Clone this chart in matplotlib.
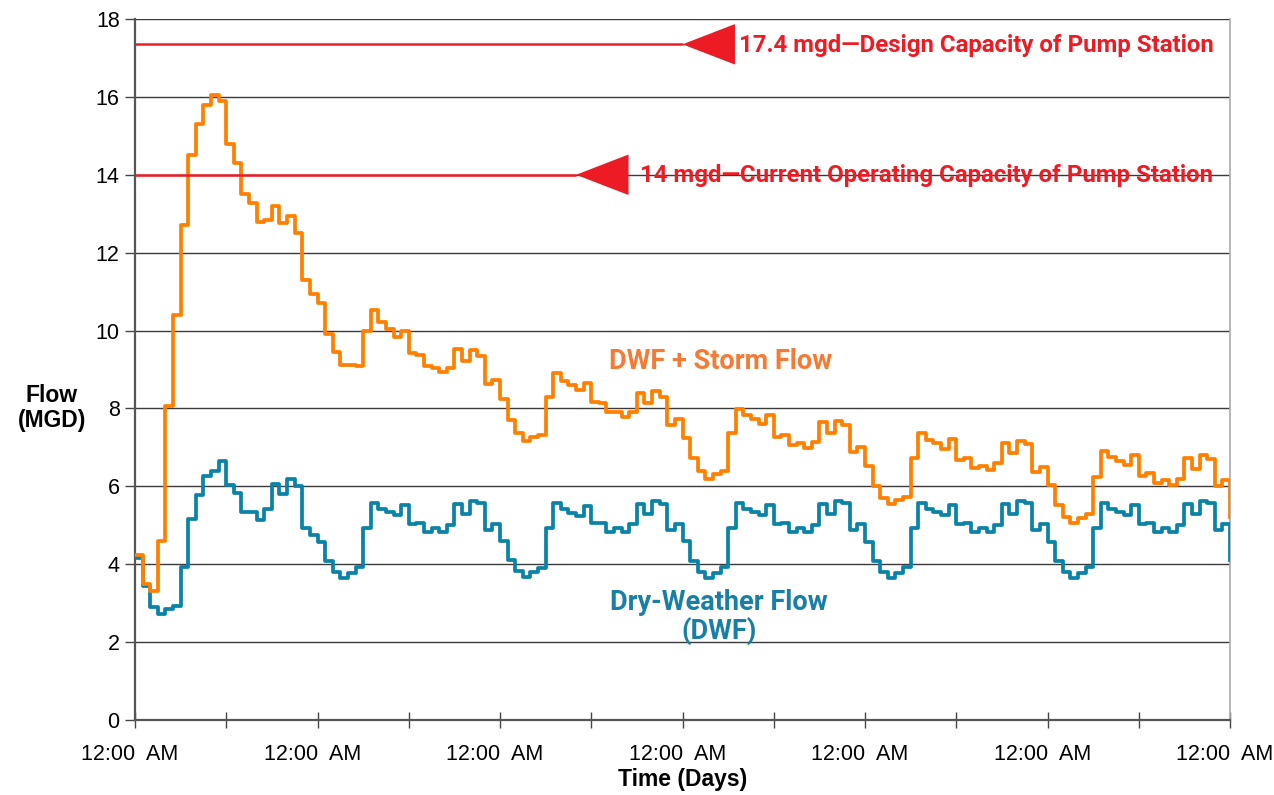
import numpy as np
import matplotlib.pyplot as plt
import matplotlib.transforms as mtransforms

# hourly flow (MGD), 6 days + final reading
hours = np.arange(145)

dwf = [
    # day 0
    4.15, 3.43, 2.90, 2.72, 2.86, 2.93, 3.94, 5.16, 5.77, 6.27, 6.39, 6.64,
    6.03, 5.82, 5.34, 5.34, 5.13, 5.43, 6.07, 5.80, 6.18, 6.00, 4.93, 4.74,
    # day 1
    4.57, 4.08, 3.80, 3.65, 3.78, 3.93, 4.92, 5.57, 5.42, 5.33, 5.26, 5.51,
    5.03, 5.07, 4.83, 4.92, 4.83, 5.01, 5.54, 5.30, 5.63, 5.56, 4.87, 5.03,
    # day 2
    4.60, 4.10, 3.83, 3.66, 3.79, 3.91, 4.92, 5.56, 5.41, 5.32, 5.25, 5.50,
    5.05, 5.07, 4.83, 4.92, 4.83, 5.02, 5.54, 5.30, 5.63, 5.55, 4.88, 5.04,
    # day 3
    4.60, 4.08, 3.80, 3.65, 3.78, 3.93, 4.92, 5.56, 5.42, 5.33, 5.26, 5.51,
    5.03, 5.07, 4.83, 4.92, 4.83, 5.01, 5.54, 5.30, 5.63, 5.56, 4.87, 5.03,
    # day 4
    4.57, 4.08, 3.80, 3.65, 3.78, 3.93, 4.92, 5.57, 5.42, 5.33, 5.26, 5.51,
    5.03, 5.07, 4.83, 4.92, 4.83, 5.01, 5.54, 5.30, 5.63, 5.56, 4.87, 5.03,
    # day 5
    4.57, 4.08, 3.80, 3.65, 3.78, 3.93, 4.92, 5.57, 5.42, 5.33, 5.26, 5.51,
    5.03, 5.07, 4.83, 4.92, 4.83, 5.01, 5.54, 5.30, 5.63, 5.56, 4.87, 5.03,
    4.10,
]

storm = [
    # day 0
    4.24, 3.50, 3.30, 4.60, 8.05, 10.40, 12.70, 14.50, 15.30, 15.80, 16.05, 15.90,
    14.80, 14.30, 13.50, 13.27, 12.80, 12.85, 13.20, 12.75, 12.95, 12.50, 11.30, 10.95,
    # day 1
    10.70, 9.92, 9.45, 9.11, 9.11, 9.09, 10.00, 10.52, 10.22, 10.03, 9.84, 10.00,
    9.43, 9.37, 9.09, 9.05, 8.94, 9.03, 9.52, 9.22, 9.50, 9.34, 8.62, 8.73,
    # day 2
    8.23, 7.70, 7.36, 7.16, 7.27, 7.32, 8.30, 8.90, 8.71, 8.60, 8.47, 8.66,
    8.16, 8.15, 7.90, 7.90, 7.79, 7.92, 8.40, 8.15, 8.45, 8.30, 7.58, 7.72,
    # day 3
    7.23, 6.72, 6.40, 6.20, 6.31, 6.40, 7.38, 7.98, 7.83, 7.72, 7.60, 7.83,
    7.27, 7.32, 7.06, 7.10, 6.99, 7.15, 7.64, 7.38, 7.69, 7.58, 6.87, 7.00,
    # day 4
    6.53, 6.00, 5.71, 5.54, 5.65, 5.73, 6.72, 7.36, 7.19, 7.10, 6.96, 7.21,
    6.68, 6.72, 6.46, 6.52, 6.42, 6.59, 7.10, 6.85, 7.16, 7.08, 6.38, 6.50,
    # day 5
    6.03, 5.52, 5.22, 5.05, 5.18, 5.28, 6.25, 6.91, 6.76, 6.66, 6.55, 6.81,
    6.27, 6.33, 6.08, 6.15, 6.03, 6.19, 6.72, 6.44, 6.81, 6.70, 6.00, 6.15,
    5.22,
]

capacity_levels = [17.35, 14.0]
capacity_labels = ['17.4 mgd\u2014Design Capacity of Pump Station',
                   '14 mgd\u2014Current Operating Capacity of Pump Station']
arrow_tips = [72.0, 58.0]   # hours where the arrow heads point

RED = '#ED1C24'
ORANGE = '#FF8000'
TEAL = '#0A83A6'

plt.rcParams['font.family'] = ['Liberation Sans', 'DejaVu Sans']

fig = plt.figure(figsize=(12.74, 7.95), dpi=100)
ax = fig.add_axes([135 / 1274, 1 - 720 / 795, 1095 / 1274, 701 / 795])

# grid
for v in range(2, 19, 2):
    ax.axhline(v, color='#3a3a3a', lw=1.0, zorder=1)

ax.plot(hours, dwf, drawstyle='steps-post', color=TEAL, lw=2.7, zorder=3,
        solid_joinstyle='round')
ax.plot(hours, storm, drawstyle='steps-post', color=ORANGE, lw=2.7, zorder=4,
        solid_joinstyle='round')

# capacity lines with arrow heads
arrow_w, arrow_h = 6.9, 0.52
for lvl, tip, lab in zip(capacity_levels, arrow_tips, capacity_labels):
    ax.plot([0, tip], [lvl, lvl], color=RED, lw=1.8, zorder=5, solid_capstyle='butt')
    ax.fill([tip, tip + arrow_w, tip + arrow_w], [lvl, lvl + arrow_h, lvl - arrow_h],
            color=RED, lw=0, zorder=5)
    ax.text(141.8, lvl - 0.02, lab, color=RED, fontsize=17.3, fontweight='bold',
            family='Roboto', ha='right', va='center', zorder=6)

ax.text(77.0, 9.2, 'DWF + Storm Flow', color='#F47B35', fontsize=19.5,
        fontweight='bold', family='Roboto', ha='center', va='center')
ax.text(76.8, 2.64, 'Dry-Weather Flow\n(DWF)', color='#1A7FA5', fontsize=19.5,
        fontweight='bold', family='Roboto', ha='center', va='center',
        linespacing=1.05)

ax.set_xlim(0, 144)
ax.set_ylim(0, 18)
ax.set_yticks(range(0, 19, 2))
ax.set_xticks(np.arange(0, 145, 12))
ax.set_xticklabels(['12:00  AM' if h % 24 == 0 else '' for h in range(0, 145, 12)])
ax.tick_params(axis='y', direction='out', length=7, width=1, color='#444444',
               labelsize=15.5, pad=4)
ax.tick_params(axis='x', direction='inout', length=11, width=1, color='#444444',
               labelsize=15.5, pad=12)
shift = mtransforms.ScaledTranslation(-0.05, 0, fig.dpi_scale_trans)
for lab in ax.get_xticklabels():
    lab.set_transform(lab.get_transform() + shift)

for s in ['left', 'bottom']:
    ax.spines[s].set_color('#555555')
    ax.spines[s].set_linewidth(1.6)
ax.spines['top'].set_visible(False)
ax.spines['right'].set_color('#aaaaaa')
ax.spines['right'].set_linewidth(1.2)

ax.set_xlabel('Time (Days)', fontsize=16.5, fontweight='bold', labelpad=2)
fig.text(52 / 1274, 1 - 408 / 795, 'Flow\n(MGD)', fontsize=16.5, fontweight='bold',
         ha='center', va='center', linespacing=1.15)

fig.savefig('out.png', dpi=100)
